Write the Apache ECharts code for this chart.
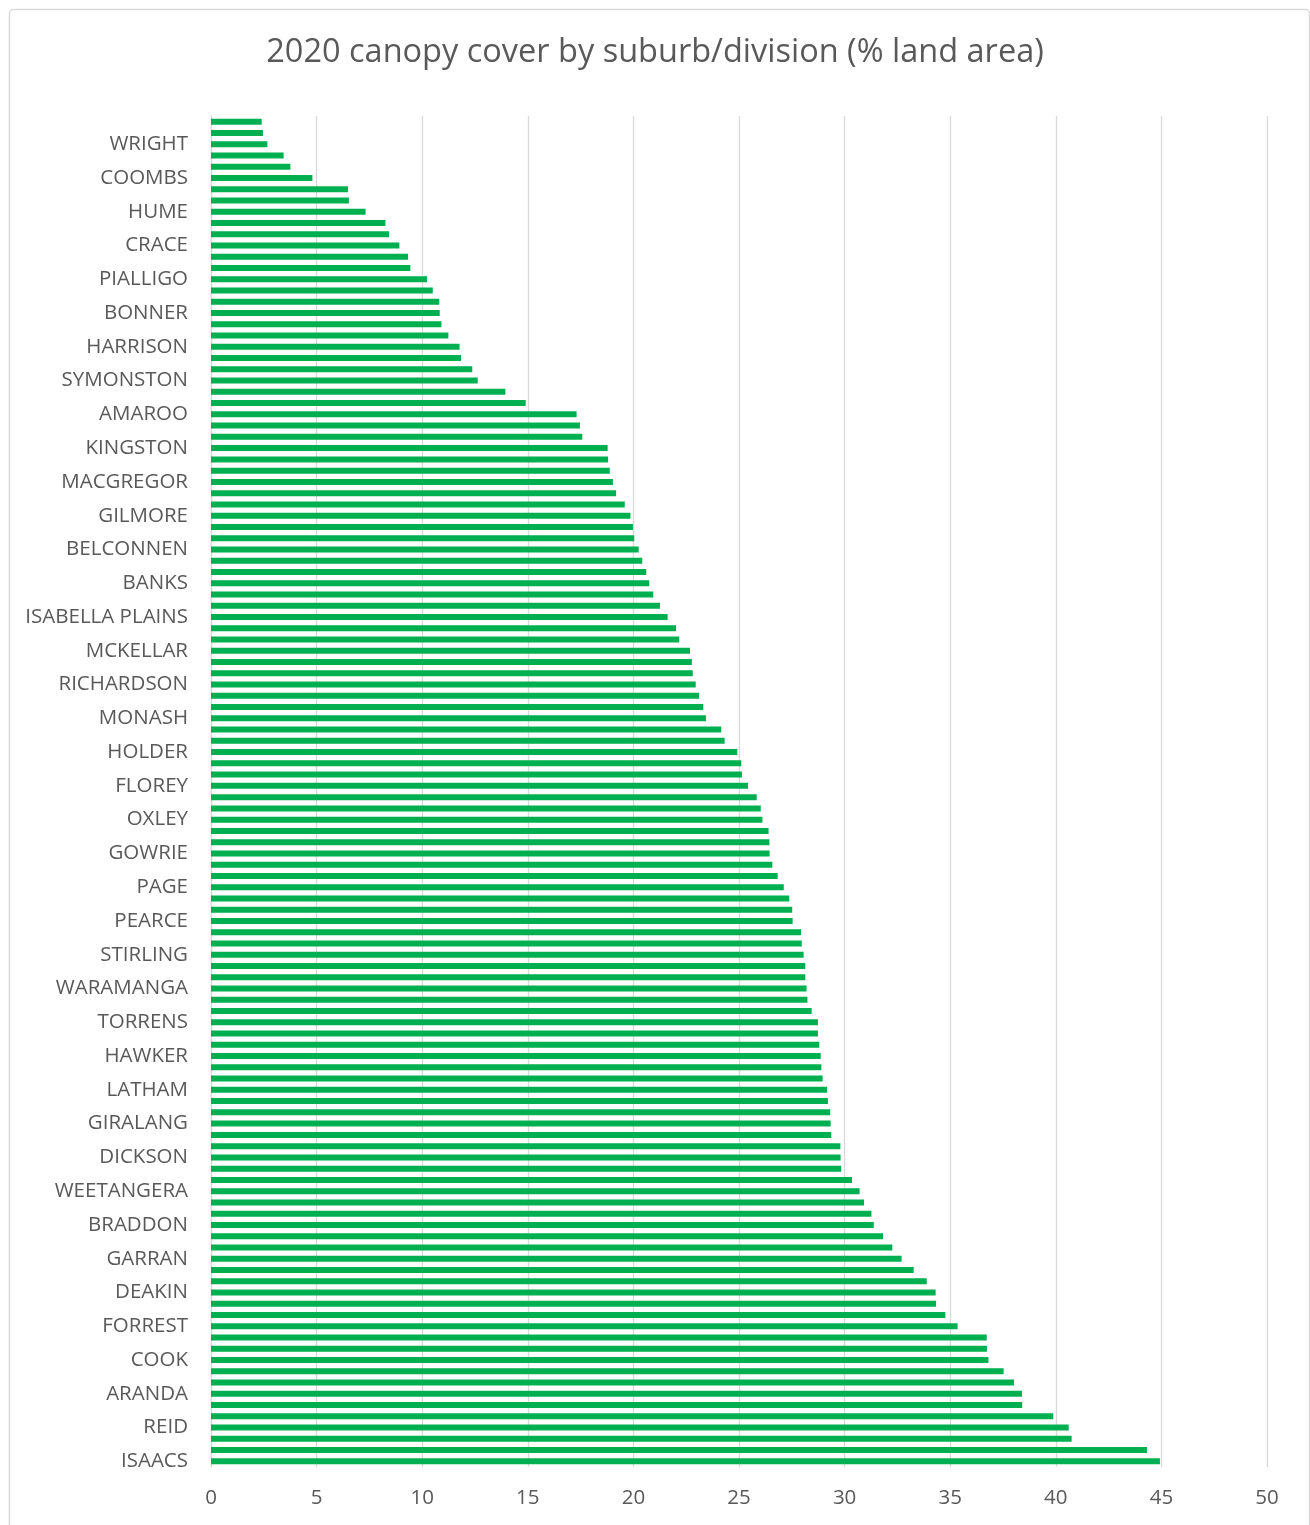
<!DOCTYPE html>
<html>
<head>
<meta charset="utf-8">
<script src="https://cdn.jsdelivr.net/npm/echarts@6/dist/echarts.min.js"></script>
<style>
html,body{margin:0;padding:0;background:#fff;}
#c{width:1310px;height:1525px;}
</style>
</head>
<body>
<div id="c"></div>
<script>
const chartTitle = "2020 canopy cover by suburb/division (% land area)";

// Visible category labels, bottom-to-top (every third bar is labelled, starting at the bottom bar)
const labelledNames = ["ISAACS","REID","ARANDA","COOK","FORREST","DEAKIN","GARRAN","BRADDON","WEETANGERA","DICKSON",
  "GIRALANG","LATHAM","HAWKER","TORRENS","WARAMANGA","STIRLING","PEARCE","PAGE","GOWRIE","OXLEY",
  "FLOREY","HOLDER","MONASH","RICHARDSON","MCKELLAR","ISABELLA PLAINS","BANKS","BELCONNEN","GILMORE","MACGREGOR",
  "KINGSTON","AMAROO","SYMONSTON","HARRISON","BONNER","PIALLIGO","CRACE","HUME","COOMBS","WRIGHT"];

// Canopy cover (% land area), top bar first (120 bars)
const readingsTopDown = [
  2.40,2.46,2.67,3.44,3.76,4.80,6.49,6.53,7.32,8.26,8.43,8.92,
  9.33,9.44,10.23,10.50,10.81,10.83,10.91,11.24,11.77,11.84,12.37,12.63,
  13.94,14.90,17.31,17.47,17.58,18.78,18.80,18.88,19.03,19.18,19.59,19.86,
  19.98,20.04,20.25,20.42,20.61,20.75,20.94,21.26,21.62,22.02,22.17,22.68,
  22.77,22.81,22.95,23.11,23.31,23.44,24.16,24.32,24.92,25.11,25.14,25.43,
  25.84,26.03,26.11,26.40,26.44,26.45,26.58,26.83,27.12,27.38,27.52,27.54,
  27.94,27.97,28.06,28.14,28.14,28.20,28.24,28.44,28.74,28.74,28.80,28.87,
  28.90,28.96,29.17,29.21,29.32,29.34,29.37,29.80,29.81,29.84,30.35,30.71,
  30.92,31.27,31.38,31.82,32.26,32.70,33.27,33.89,34.31,34.33,34.77,35.35,
  36.73,36.74,36.81,37.53,38.02,38.40,38.41,39.88,40.61,40.75,44.32,44.93
];

const xTicks = [0,5,10,15,20,25,30,35,40,45,50];
</script>
<script>
const values = readingsTopDown.slice().reverse(); // bottom-to-top for the category axis
// Unlabelled bars get placeholder names (the picture does not show them; they are not drawn)
const categories = values.map((v, i) =>
  i % 3 === 0 ? labelledNames[i / 3] : "(unlabelled " + (i + 1) + ")");

const chart = echarts.init(document.getElementById('c'), null, {renderer: 'canvas'});
const FONT = '"Open Sans", "Noto Sans", sans-serif';
chart.setOption({
  backgroundColor: '#ffffff',
  animation: false,
  title: {
    text: chartTitle,
    left: 'center',
    top: 31,
    textStyle: {fontFamily: FONT, fontSize: 32.5, fontWeight: 'normal', color: '#595959'}
  },
  graphic: [{
    type: 'rect', left: 7, top: 7, silent: true,
    shape: {width: 1300, height: 1540, r: 4},
    style: {fill: 'none', stroke: '#d9d9d9', lineWidth: 1.5}
  }],
  grid: {left: 211, right: 43, top: 116, bottom: 58, containLabel: false},
  xAxis: {
    type: 'value', min: 0, max: 50, interval: 5,
    axisLine: {show: false}, axisTick: {show: false},
    splitLine: {show: true, lineStyle: {color: '#d9d9d9', width: 1.3}},
    axisLabel: {fontFamily: FONT, fontSize: 20.5, color: '#595959', margin: 21,
      formatter: v => xTicks.includes(v) ? String(v) : ''}
  },
  yAxis: {
    type: 'category', data: categories,
    axisLine: {show: true, lineStyle: {color: '#d9d9d9', width: 1.3}},
    axisTick: {show: false},
    axisLabel: {fontFamily: FONT, fontSize: 20.5, color: '#595959', margin: 23, interval: 2}
  },
  series: [{
    type: 'bar', data: values, barWidth: 6,
    itemStyle: {color: '#00b050'}
  }]
});
</script>
</body>
</html>
